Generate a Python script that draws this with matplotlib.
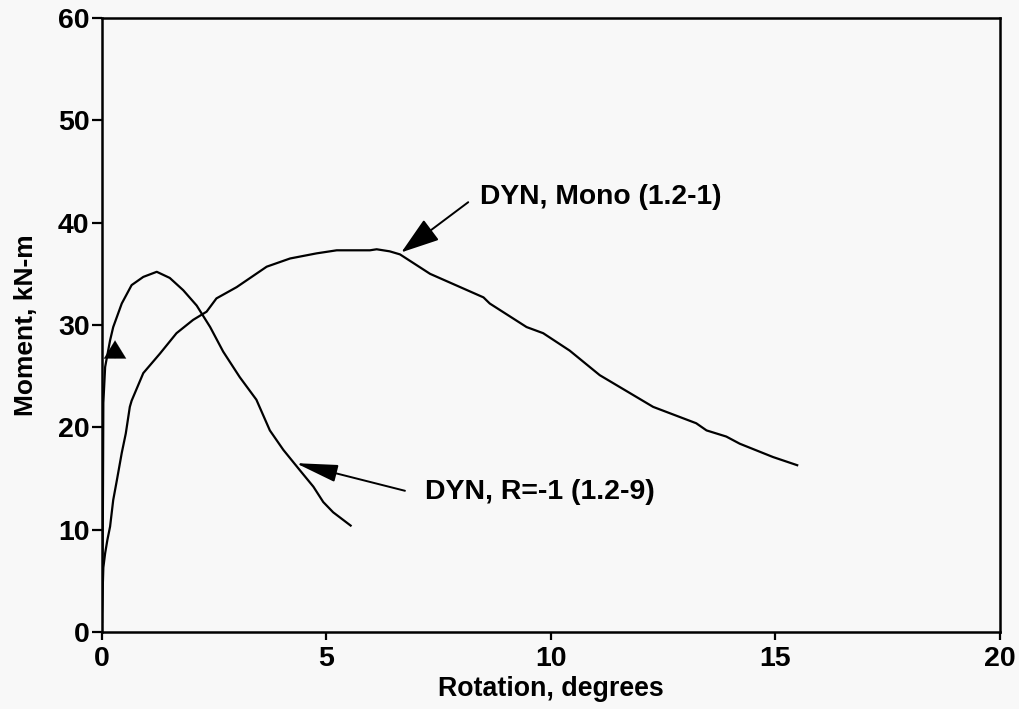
import matplotlib
matplotlib.use("Agg")
import matplotlib.pyplot as plt

# R=-1 test (1.2-9)
r1_rot = [0.0, 0.02, 0.03, 0.07, 0.18, 0.25, 0.44, 0.66, 0.92, 1.22, 1.51, 1.81,
          2.11, 2.41, 2.70, 3.07, 3.44, 3.74, 4.04, 4.41, 4.71, 4.93, 5.15, 5.54]
r1_mom = [1.0, 12.0, 22.4, 25.9, 28.5, 29.8, 32.1, 33.9, 34.7, 35.2, 34.6, 33.4,
          31.9, 29.8, 27.4, 24.9, 22.7, 19.7, 17.8, 15.8, 14.2, 12.7, 11.7, 10.4]

# monotonic test (1.2-1)
mono_rot = [0.0, 0.03, 0.07, 0.12, 0.18, 0.25, 0.33, 0.44, 0.53, 0.62, 0.66, 0.92,
            1.29, 1.66, 2.03, 2.33, 2.55, 3.0, 3.67, 4.19, 4.78, 5.23, 5.97, 6.12,
            6.41, 6.64, 7.31, 8.50, 8.64, 9.46, 9.83, 10.42, 11.09, 12.28, 13.24,
            13.47, 13.91, 14.21, 14.95, 15.49]
mono_mom = [2.0, 6.3, 7.7, 9.0, 10.3, 12.9, 14.8, 17.5, 19.4, 22.0, 22.6, 25.3,
            27.2, 29.2, 30.5, 31.3, 32.6, 33.7, 35.7, 36.5, 37.0, 37.3, 37.3, 37.4,
            37.2, 36.9, 35.0, 32.7, 32.1, 29.8, 29.2, 27.5, 25.1, 22.0, 20.4,
            19.7, 19.1, 18.4, 17.1, 16.3]

x_ticks = [0, 5, 10, 15, 20]
y_ticks = [0, 10, 20, 30, 40, 50, 60]

label_mono = "DYN, Mono (1.2-1)"
label_r1 = "DYN, R=-1 (1.2-9)"

plt.rcParams["font.family"] = ["Liberation Sans", "DejaVu Sans"]
plt.rcParams["font.weight"] = "bold"

bg = "#f8f8f8"
fig = plt.figure(figsize=(10.2, 7.09), dpi=100, facecolor=bg)
ax = fig.add_axes([0.1, 0.1086, 0.88, 0.866], facecolor=bg)

ax.plot(r1_rot, r1_mom, color="black", linewidth=1.6)
ax.plot(mono_rot, mono_mom, color="black", linewidth=1.6)

ax.set_xlim(0, 20)
ax.set_ylim(0, 60)
ax.set_xticks(x_ticks)
ax.set_yticks(y_ticks)
ax.tick_params(axis="both", direction="out", width=1.6, labelsize=20.5, colors="black")
ax.tick_params(axis="x", length=6, pad=4)
ax.tick_params(axis="y", length=7, pad=2)
for side in ax.spines.values():
    side.set_linewidth(1.8)

ax.set_xlabel("Rotation, degrees", fontsize=19.3, fontweight="bold", labelpad=3)
ax.set_ylabel("Moment, kN-m", fontsize=19, fontweight="bold", labelpad=14)

# labels with their pointer arrows
ax.text(8.42, 42.5, label_mono, fontsize=20.3, ha="left", va="center")
ax.annotate("", xy=(6.67, 37.1), xytext=(8.16, 42.0),
            arrowprops=dict(arrowstyle="-|>,head_length=1.2,head_width=0.4",
                            mutation_scale=20, color="black", lw=1.4,
                            shrinkA=0, shrinkB=0))

ax.text(7.19, 13.7, label_r1, fontsize=20.5, ha="left", va="center")
ax.annotate("", xy=(4.32, 16.5), xytext=(6.75, 13.8),
            arrowprops=dict(arrowstyle="-|>,head_length=1.3,head_width=0.27",
                            mutation_scale=20, color="black", lw=1.4,
                            shrinkA=0, shrinkB=0))

# small direction marker on the R=-1 loading branch
ax.annotate("", xy=(0.29, 28.5), xytext=(0.29, 26.7),
            arrowprops=dict(arrowstyle="-|>,head_length=0.65,head_width=0.4",
                            mutation_scale=20, color="black", lw=0.1,
                            shrinkA=0, shrinkB=0))

fig.savefig("out.png", dpi=100, facecolor=bg)
